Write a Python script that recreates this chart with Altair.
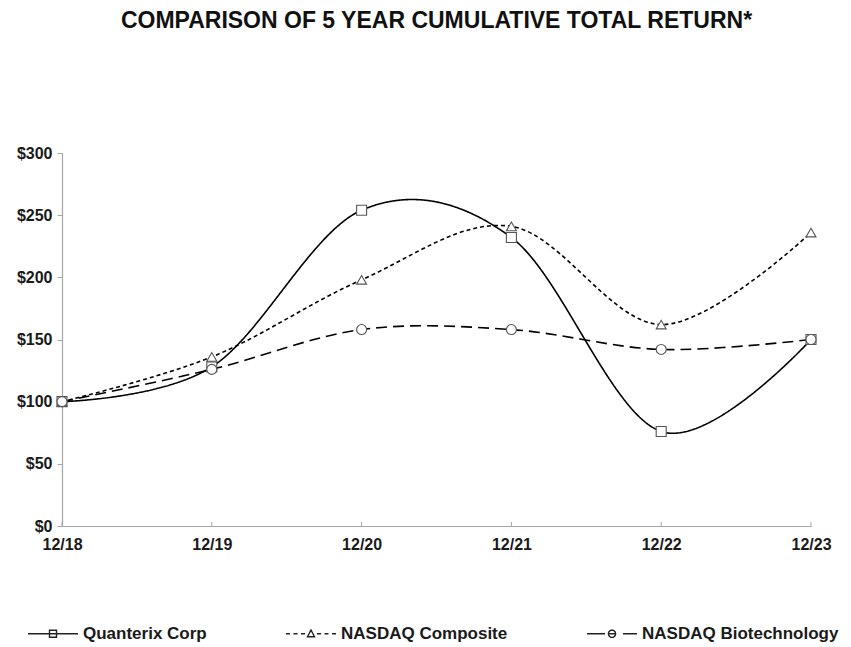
import math
import altair as alt
import pandas as pd

periods = ["12/18", "12/19", "12/20", "12/21", "12/22", "12/23"]
series = ["Quanterix Corp", "NASDAQ Composite", "NASDAQ Biotechnology"]
quanterix = [100, 128, 254, 232, 76, 150]
composite = [100, 136, 198, 241, 162, 236]
biotech = [100, 126, 158, 158, 142, 150]
y_ticks = [0, 50, 100, 150, 200, 250, 300]

rows = []
for name, vals in zip(series, [quanterix, composite, biotech]):
    for p, v in zip(periods, vals):
        rows.append({"period": p, "series": name, "value": v})
df = pd.DataFrame(rows)

FONT = "Liberation Sans"
AXIS_GREY = "#a6a6a6"

# legend symbols (line segment + marker). Symbol size 100 -> 5 px per path unit.
SYM_CENTER = 8.5


def u(px):
    return round((px - SYM_CENTER) / 5, 3)


def seg(a, b):
    return f"M {u(a)} 0 L {u(b)} 0 "


sq = f"M {u(21.5)} -0.7 L {u(28.5)} -0.7 L {u(28.5)} 0.7 L {u(21.5)} 0.7 Z "
tri = f"M {u(25)} -0.75 L {u(28.5)} 0.6 L {u(21.5)} 0.6 Z "
circ_pts = [
    (u(25 + 3.6 * math.cos(2 * math.pi * k / 24)),
     round(0.72 * math.sin(2 * math.pi * k / 24), 3))
    for k in range(24)
]
circ = "M " + " L ".join(f"{a} {b}" for a, b in circ_pts) + " Z "
leg_paths = [
    seg(0, 50) + sq,
    seg(0, 4) + seg(7.5, 11.5) + seg(15, 19) + seg(31, 35) + seg(38.5, 42.5) + seg(46, 50) + tri,
    seg(0, 18) + seg(21, 29) + seg(36, 50) + circ,
]

x_enc = alt.X(
    "period:O",
    scale=alt.Scale(type="point", padding=0, domain=periods),
    axis=alt.Axis(title=None, labelAngle=0, ticks=False, labelPadding=10),
)
y_enc = alt.Y(
    "value:Q",
    scale=alt.Scale(domain=[0, 300], nice=False),
    axis=alt.Axis(title=None, values=y_ticks, labelExpr="'$' + datum.value",
                  tickSize=5, grid=False, labelPadding=5),
)

base = alt.Chart(df)

lines = base.mark_line(interpolate="cardinal", color="black", strokeWidth=1.6).encode(
    x=x_enc,
    y=y_enc,
    detail="series:N",
    strokeDash=alt.StrokeDash(
        "series:N",
        scale=alt.Scale(domain=series, range=[[1, 0], [4, 3], [11, 6]]),
        legend=None,
    ),
)

points = base.mark_point(filled=True, fill="white", stroke="#555555", strokeWidth=1.1,
                         size=100, opacity=1).encode(
    x=x_enc,
    y=y_enc,
    shape=alt.Shape(
        "series:N",
        scale=alt.Scale(domain=series, range=["square", "triangle-up", "circle"]),
        legend=None,
    ),
)

# legend-only layer: no rows survive the filter, the legend comes from the scale domain
legend_layer = base.transform_filter("datum.value < 0").mark_point(
    color="#222222", opacity=1
).encode(
    x=x_enc,
    y=y_enc,
    shape=alt.Shape(
        "series:N",
        scale=alt.Scale(domain=series, range=leg_paths),
        legend=alt.Legend(
            title=None, orient="none", legendX=-34, legendY=472,
            direction="horizontal", columns=3, gridAlign="each", columnPadding=76,
            symbolSize=100, symbolStrokeWidth=1.4, symbolFillColor="white",
            symbolStrokeColor="#222222", symbolOpacity=1, labelOffset=38,
            labelFont=FONT, labelFontSize=17, labelFontWeight="bold",
            labelColor="#1a1a1a", labelLimit=300,
        ),
    ),
)

xticks = alt.Chart(pd.DataFrame({"period": periods})).mark_rule(
    color=AXIS_GREY, strokeWidth=1
).encode(x=x_enc, y=alt.datum(0), y2=alt.datum(3.2))

chart = (
    alt.layer(xticks, lines, points, legend_layer)
    .resolve_scale(shape="independent")
    .properties(
        width=749,
        height=373,
        autosize="none",
        padding={"left": 54, "top": 145, "right": 30, "bottom": 121},
        title=alt.Title(
            "COMPARISON OF 5 YEAR CUMULATIVE TOTAL RETURN*",
            font=FONT, fontSize=23, fontWeight="bold", color="#111111",
            anchor="middle", frame="group", offset=112,
        ),
    )
    .configure_view(stroke=None)
    .configure_axis(
        labelFont=FONT, labelFontSize=16, labelFontWeight="bold", labelColor="#1a1a1a",
        domainColor=AXIS_GREY, tickColor=AXIS_GREY, domainWidth=1.2,
    )
)

chart.save("out.html", embed_options={"renderer": "svg", "actions": False})
